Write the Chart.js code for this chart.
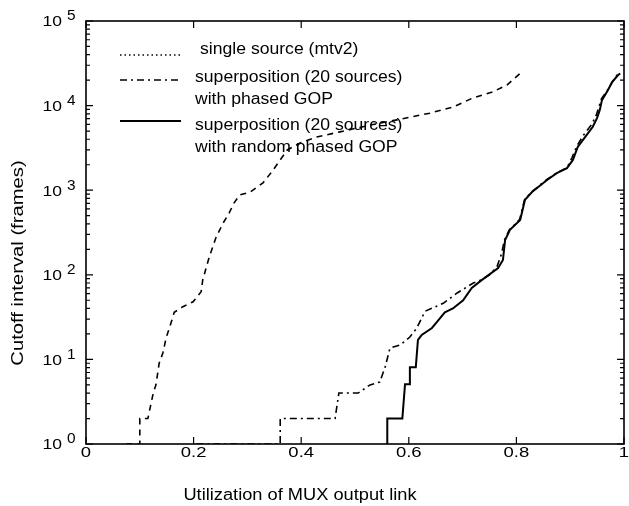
<!DOCTYPE html>
<html>
<head>
<meta charset="utf-8">
<script src="https://cdn.jsdelivr.net/npm/chart.js@4.4.1/dist/chart.umd.min.js"></script>
<style>
    html, body { margin: 0; padding: 0; background: #fff; }
</style>
</head>
<body>
<canvas id="cutoffGraph" width="629" height="506"></canvas>
<script>
var xTicks = [0, 0.2, 0.4, 0.6, 0.8, 1];
var xTickLabels = ["0", "0.2", "0.4", "0.6", "0.8", "1"];
var yTicks = [1, 10, 100, 1000, 10000, 100000];
var yTickExponents = ["0", "1", "2", "3", "4", "5"];

// single source (mtv2)
var singleX = [0.075, 0.100, 0.100, 0.115, 0.125, 0.130, 0.136, 0.143, 0.149, 0.158, 0.164, 0.180, 0.199, 0.214, 0.217,
    0.229, 0.242, 0.255, 0.266, 0.275, 0.286, 0.305, 0.329, 0.348, 0.361, 0.374, 0.398, 0.429, 0.472, 0.528,
    0.578, 0.639, 0.682, 0.719, 0.756, 0.783, 0.810];
var singleY = [1, 1, 2, 2, 4, 5, 9, 12, 18, 27, 36, 42, 48, 63, 87,
    162, 280, 410, 535, 705, 880, 950, 1220, 1740, 2280, 2990, 3610, 4260, 4890, 5880,
    6780, 8140, 9610, 12300, 14500, 17600, 25000];

// superposition (20 sources) with phased GOP
var phasedX = [0.205, 0.361, 0.361, 0.463, 0.470, 0.506, 0.528, 0.546, 0.556, 0.565, 0.584, 0.602, 0.615, 0.630, 0.664,
    0.690, 0.720, 0.735, 0.750, 0.764, 0.772, 0.778, 0.787, 0.806, 0.815, 0.828, 0.856, 0.875, 0.894, 0.903,
    0.912, 0.925, 0.940, 0.948, 0.953, 0.958, 0.970, 0.978, 0.988];
var phasedY = [1, 1, 2, 2, 4, 4, 5, 5.4, 8.1, 13.6, 14.8, 18.4, 23.5, 37, 46,
    61, 80, 87, 100, 125, 175, 260, 340, 450, 770, 950, 1330, 1600, 1850, 2400,
    3300, 4500, 6000, 7600, 9500, 12000, 15500, 19000, 23500];

// superposition (20 sources) with random phased GOP
var randomX = [0.560, 0.560, 0.588, 0.593, 0.602, 0.602, 0.613, 0.617, 0.624, 0.643, 0.652, 0.667, 0.682, 0.701, 0.717,
    0.736, 0.766, 0.775, 0.779, 0.788, 0.807, 0.816, 0.829, 0.857, 0.875, 0.894, 0.905, 0.914, 0.928, 0.942,
    0.950, 0.955, 0.959, 0.970, 0.978, 0.989, 0.993];
var randomY = [1, 2, 2, 5.1, 5.1, 8.1, 8.1, 17, 19.5, 23.5, 27.6, 36, 40, 50, 70,
    87, 120, 150, 258, 340, 445, 770, 950, 1320, 1590, 1820, 2280, 3250, 4260, 5620,
    7170, 8900, 11600, 15200, 19000, 23000, 24000];

var seriesLabels = [
    ["single source (mtv2)"],
    ["superposition (20 sources)", "with phased GOP"],
    ["superposition (20 sources)", "with random phased GOP"],
];
var xTitle = "Utilization of MUX output link";
var yTitle = "Cutoff interval (frames)";

var fontFamily = '"Liberation Sans", Arial, sans-serif';

function to_points(xs, ys) {
    var points = [];
    for (var i = 0; i < xs.length; i++) {
        points.push({ x: xs[i], y: ys[i] });
    }
    return points;
}

// the scanned figure has wide lettering, so text is stretched sideways
function draw_text(ctx, text, x, y, size, stretch, align, rotate) {
    ctx.save();
    ctx.translate(x, y);
    if (rotate) ctx.rotate(rotate);
    ctx.scale(stretch, 1);
    ctx.font = size + "px " + fontFamily;
    ctx.textAlign = align;
    ctx.textBaseline = "middle";
    ctx.fillText(text, 0, 0);
    ctx.restore();
}

// box with inward ticks, tick labels, axis titles and the in-plot legend
var paperFrame = {
    id: "paperFrame",
    afterDatasetsDraw(chart) {
        var ctx = chart.ctx;
        var a = chart.chartArea;
        var x = chart.scales.x;
        var y = chart.scales.y;
        ctx.save();
        ctx.strokeStyle = "#000";
        ctx.fillStyle = "#000";
        ctx.lineWidth = 1.6;
        ctx.strokeRect(a.left, a.top, a.right - a.left, a.bottom - a.top);

        ctx.lineWidth = 1.2;
        ctx.beginPath();
        for (var v of xTicks) {
            var px = x.getPixelForValue(v);
            ctx.moveTo(px, a.bottom); ctx.lineTo(px, a.bottom - 7);
            ctx.moveTo(px, a.top); ctx.lineTo(px, a.top + 7);
        }
        for (var i = 0; i < yTicks.length; i++) {
            var py = y.getPixelForValue(yTicks[i]);
            ctx.moveTo(a.left, py); ctx.lineTo(a.left + 7, py);
            ctx.moveTo(a.right, py); ctx.lineTo(a.right - 7, py);
            if (i < yTicks.length - 1) {
                for (var m = 2; m < 10; m++) {
                    var pm = y.getPixelForValue(yTicks[i] * m);
                    ctx.moveTo(a.left, pm); ctx.lineTo(a.left + 4, pm);
                    ctx.moveTo(a.right, pm); ctx.lineTo(a.right - 4, pm);
                }
            }
        }
        ctx.stroke();

        // tick labels
        xTicks.forEach(function (v, i) {
            draw_text(ctx, xTickLabels[i], x.getPixelForValue(v), a.bottom + 9, 14, 1.32, "center");
        });
        yTicks.forEach(function (v, i) {
            var py = y.getPixelForValue(v);
            draw_text(ctx, "10", a.left - 24, py + 1.5, 14, 1.25, "right");
            draw_text(ctx, yTickExponents[i], a.left - 19, py - 4.5, 14, 1.1, "left");
        });

        // axis titles
        draw_text(ctx, xTitle, 300, 496, 16, 1.14, "center");
        draw_text(ctx, yTitle, 18, 263, 17, 1.19, "center", -Math.PI / 2);

        // legend
        var sampleY = [55, 80, 121];
        var textY = [[50], [78, 100], [126, 148]];
        var textX = [200, 195, 195];
        chart.data.datasets.forEach(function (ds, k) {
            ctx.save();
            ctx.lineWidth = ds.borderWidth;
            ctx.setLineDash(ds.legendDash);
            ctx.beginPath();
            ctx.moveTo(120, sampleY[k]);
            ctx.lineTo(181, sampleY[k]);
            ctx.stroke();
            ctx.restore();
            seriesLabels[k].forEach(function (line, j) {
                draw_text(ctx, line, textX[k], textY[k][j], 16, 1.1, "left");
            });
        });
        ctx.restore();
    },
};

var cutoffGraph = new Chart("cutoffGraph", {
    type: "line",
    data: {
        datasets: [
            {
                label: seriesLabels[0].join(" "),
                data: to_points(singleX, singleY),
                borderColor: "#000",
                borderWidth: 1.6,
                borderDash: [6, 5],
                legendDash: [1.5, 3],
                pointRadius: 0,
                tension: 0,
            },
            {
                label: seriesLabels[1].join(" "),
                data: to_points(phasedX, phasedY),
                borderColor: "#000",
                borderWidth: 1.6,
                borderDash: [7, 4, 2, 4],
                legendDash: [7, 4, 2, 4],
                pointRadius: 0,
                tension: 0,
            },
            {
                label: seriesLabels[2].join(" "),
                data: to_points(randomX, randomY),
                borderColor: "#000",
                borderWidth: 2,
                borderDash: [],
                legendDash: [],
                pointRadius: 0,
                tension: 0,
            },
        ],
    },
    options: {
        responsive: false,
        animation: false,
        layout: { padding: { top: 21, right: 5, left: 0, bottom: 0 } },
        plugins: {
            legend: { display: false },
            tooltip: { enabled: false },
        },
        scales: {
            x: {
                type: "linear",
                min: 0,
                max: 1,
                afterBuildTicks: function (scale) {
                    scale.ticks = xTicks.map(function (v) { return { value: v }; });
                },
                afterFit: function (scale) { scale.height = 62; },
                grid: { display: false, drawTicks: false },
                border: { display: false },
                ticks: { display: false },
            },
            y: {
                type: "logarithmic",
                min: 1,
                max: 100000,
                afterBuildTicks: function (scale) {
                    scale.ticks = yTicks.map(function (v) { return { value: v, major: true }; });
                },
                afterFit: function (scale) { scale.width = 86; },
                grid: { display: false, drawTicks: false },
                border: { display: false },
                ticks: { display: false },
            },
        },
    },
    plugins: [paperFrame],
});
</script>
</body>
</html>
